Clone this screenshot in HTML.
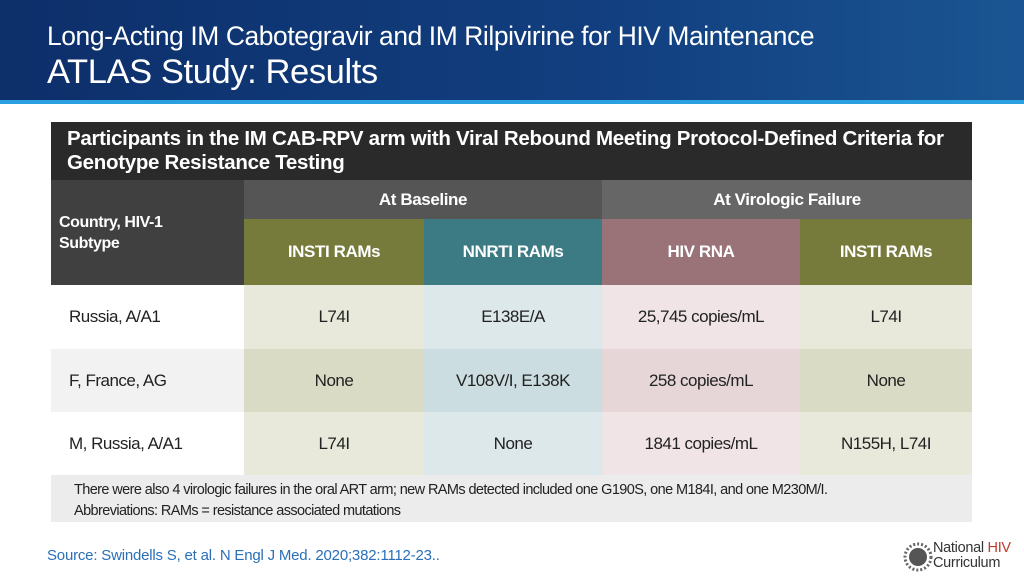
<!DOCTYPE html>
<html><head><meta charset="utf-8"><style>
body{margin:0;width:1024px;height:576px;overflow:hidden;background:#fff;font-family:"Liberation Sans",sans-serif;position:relative}
.abs{position:absolute;white-space:nowrap}
.hdr{left:0;top:0;width:1024px;height:100px;background:linear-gradient(90deg,#0d2f6a,#123f80 60%,#1a5592)}
.line{left:0;top:100px;width:1024px;height:4px;background:#2aa0e0}
.t1{left:47px;top:21px;font-size:26.4px;color:#fff;letter-spacing:-0.4px}
.t2{left:47px;top:53px;font-size:34.5px;color:#fff;letter-spacing:-0.4px}
.cell{position:absolute;display:flex;align-items:center;justify-content:center;box-sizing:border-box;font-size:17px;letter-spacing:-0.5px;color:#222;white-space:nowrap}
.h{color:#fff;font-weight:bold;font-size:17px;letter-spacing:-0.4px}
</style></head><body>
<div class="abs hdr"></div>
<div class="abs line"></div>
<div class="abs t1">Long-Acting IM Cabotegravir and IM Rilpivirine for HIV Maintenance</div>
<div class="abs t2">ATLAS Study: Results</div>

<div>
<div class="cell h" style="left:51px;top:122px;width:921px;height:58px;background:#2a2a2a;justify-content:flex-start;padding-left:16px;font-size:20.5px;letter-spacing:-0.3px;line-height:24px">Participants in the IM CAB-RPV arm with Viral Rebound Meeting Protocol-Defined Criteria for<br>Genotype Resistance Testing</div>
<div class="cell h" style="left:51px;top:180px;width:193px;height:105px;background:#404040;justify-content:flex-start;padding-left:8px;line-height:21px;font-size:16px">Country, HIV-1<br>Subtype</div>
<div class="cell h" style="left:244px;top:180px;width:358px;height:39px;background:#555">At Baseline</div>
<div class="cell h" style="left:602px;top:180px;width:370px;height:39px;background:#666">At Virologic Failure</div>
<div class="cell h" style="left:244px;top:219px;width:180px;height:66px;background:#767a3a">INSTI RAMs</div>
<div class="cell h" style="left:424px;top:219px;width:178px;height:66px;background:#3d7b84">NNRTI RAMs</div>
<div class="cell h" style="left:602px;top:219px;width:198px;height:66px;background:#997378">HIV RNA</div>
<div class="cell h" style="left:800px;top:219px;width:172px;height:66px;background:#767a3a">INSTI RAMs</div>

<div class="cell" style="left:51px;top:285px;width:193px;height:64px;background:#fff;justify-content:flex-start;padding-left:18px">Russia, A/A1</div>
<div class="cell" style="left:244px;top:285px;width:180px;height:64px;background:#e8e9db">L74I</div>
<div class="cell" style="left:424px;top:285px;width:178px;height:64px;background:#dde8ea">E138E/A</div>
<div class="cell" style="left:602px;top:285px;width:198px;height:64px;background:#f0e4e6">25,745 copies/mL</div>
<div class="cell" style="left:800px;top:285px;width:172px;height:64px;background:#e8e9db">L74I</div>

<div class="cell" style="left:51px;top:349px;width:193px;height:63px;background:#f2f2f2;justify-content:flex-start;padding-left:18px">F, France, AG</div>
<div class="cell" style="left:244px;top:349px;width:180px;height:63px;background:#d9dbc4">None</div>
<div class="cell" style="left:424px;top:349px;width:178px;height:63px;background:#cbdde0">V108V/I, E138K</div>
<div class="cell" style="left:602px;top:349px;width:198px;height:63px;background:#e6d6d8">258 copies/mL</div>
<div class="cell" style="left:800px;top:349px;width:172px;height:63px;background:#d9dbc4">None</div>

<div class="cell" style="left:51px;top:412px;width:193px;height:63px;background:#fff;justify-content:flex-start;padding-left:18px">M, Russia, A/A1</div>
<div class="cell" style="left:244px;top:412px;width:180px;height:63px;background:#e8e9db">L74I</div>
<div class="cell" style="left:424px;top:412px;width:178px;height:63px;background:#dde8ea">None</div>
<div class="cell" style="left:602px;top:412px;width:198px;height:63px;background:#f0e4e6">1841 copies/mL</div>
<div class="cell" style="left:800px;top:412px;width:172px;height:63px;background:#e8e9db">N155H, L74I</div>

<div class="cell" style="left:51px;top:475px;width:921px;height:47px;background:#ececec;display:block;padding:5px 0 0 23px;font-size:14.5px;line-height:21px;letter-spacing:-0.6px">There were also 4 virologic failures in the oral ART arm; new RAMs detected included one G190S, one M184I, and one M230M/I.<br>Abbreviations: RAMs = resistance associated mutations</div>
</div>

<div class="abs" style="left:47px;top:547px;font-size:15px;color:#2a6fb8;letter-spacing:-0.2px">Source: Swindells S, et al. N Engl J Med. 2020;382:1112-23..</div>
<div class="abs" style="left:903px;top:541px;width:118px;height:32px">
<svg width="30" height="30" style="position:absolute;left:0;top:1px"><circle cx="15" cy="15" r="9" fill="#555"/><circle cx="15" cy="15" r="13" fill="none" stroke="#666" stroke-width="3" stroke-dasharray="2 2"/></svg>
<div style="position:absolute;left:30px;top:0;font-size:14.5px;line-height:15px;color:#333;letter-spacing:-0.3px">National <span style="color:#c0392b">HIV</span><br>Curriculum</div>
</div>
</body></html>
